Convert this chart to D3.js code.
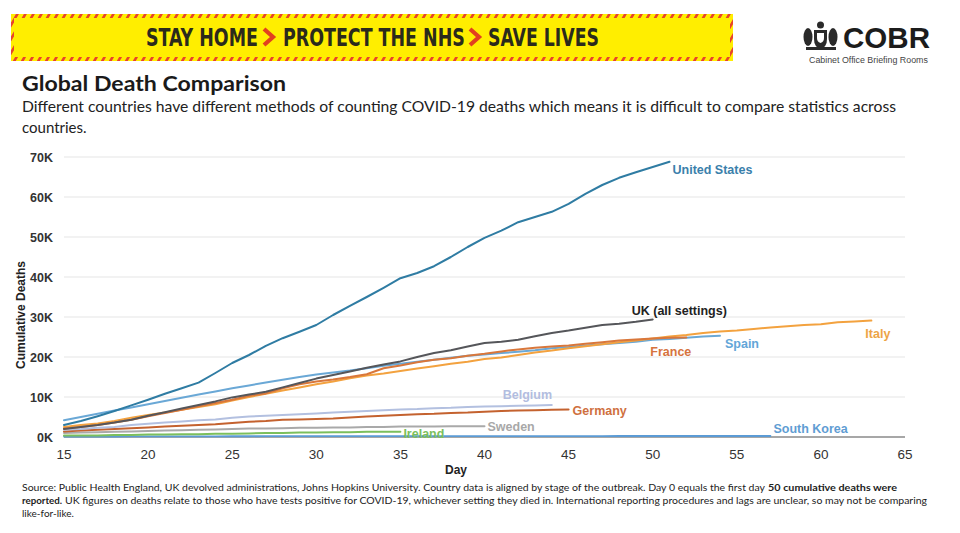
<!DOCTYPE html>
<html><head><meta charset="utf-8">
<script src="https://cdn.jsdelivr.net/npm/d3@7"></script>
<style>body{margin:0;background:#fff}svg{display:block}</style>
</head><body><svg id="c" width="960" height="533"></svg>
<script>
// ---------- DATA (cumulative deaths, thousands; first value = day 15) ----------
const firstDay = 15;
const xTicks = [15, 20, 25, 30, 35, 40, 45, 50, 55, 60, 65];
const yTicks = [0, 10, 20, 30, 40, 50, 60, 70];
const yTickLabels = ["0K", "10K", "20K", "30K", "40K", "50K", "60K", "70K"];

const unitedStates = [3.0,4.0,5.2,6.5,7.9,9.3,10.8,12.2,13.6,16.0,18.5,20.5,22.8,24.7,26.3,28.0,30.5,32.8,35.0,37.3,39.7,41.0,42.7,45.0,47.5,49.8,51.6,53.7,55.0,56.3,58.3,60.8,63.0,64.8,66.2,67.5,68.8];
const ukAllSettings = [2.0,2.5,3.0,3.6,4.3,5.3,6.2,7.1,8.0,8.9,9.9,10.6,11.3,12.4,13.5,14.6,15.5,16.4,17.3,18.1,18.9,20.0,21.0,21.7,22.6,23.5,23.8,24.3,25.2,26.0,26.6,27.3,28.0,28.3,28.8,29.4];
const italy = [2.5,3.0,3.4,4.0,4.8,5.5,6.1,6.8,7.5,8.2,9.1,10.0,10.8,11.6,12.4,13.2,13.9,14.7,15.4,15.9,16.5,17.1,17.7,18.3,18.8,19.5,19.9,20.5,21.1,21.6,22.2,22.7,23.2,23.7,24.1,24.6,25.1,25.5,26.0,26.4,26.6,27.0,27.4,27.7,28.0,28.2,28.7,28.9,29.1];
const france = [2.1,2.5,3.0,3.6,4.3,5.2,6.0,6.8,7.7,8.5,9.3,10.3,10.9,12.2,13.2,13.9,14.4,15.0,15.7,17.2,17.9,18.7,19.3,19.7,20.3,20.8,21.4,21.9,22.3,22.6,22.9,23.3,23.7,24.1,24.4,24.6,24.8,24.9];
const spain = [4.2,5.0,5.8,6.6,7.4,8.2,9.0,9.8,10.6,11.4,12.2,12.9,13.6,14.3,15.0,15.6,16.1,16.6,17.2,17.8,18.3,18.8,19.3,19.8,20.3,20.6,21.0,21.3,21.7,22.2,22.5,22.9,23.2,23.5,23.8,24.3,24.5,24.8,25.1,25.3];
const belgium = [1.8,2.0,2.3,2.5,3.0,3.3,3.6,3.9,4.2,4.4,4.8,5.1,5.3,5.5,5.7,5.9,6.1,6.3,6.5,6.7,6.9,7.0,7.2,7.3,7.5,7.6,7.7,7.8,7.9,8.0];
const germany = [1.4,1.6,1.8,2.0,2.2,2.4,2.6,2.8,3.0,3.2,3.5,3.8,4.0,4.3,4.4,4.5,4.6,4.9,5.1,5.3,5.5,5.7,5.8,6.0,6.1,6.3,6.5,6.6,6.7,6.8,6.9];
const sweden = [1.0,1.1,1.2,1.3,1.4,1.5,1.6,1.7,1.8,1.9,2.0,2.1,2.1,2.2,2.3,2.3,2.4,2.4,2.5,2.5,2.6,2.6,2.6,2.7,2.7,2.7];
const ireland = [0.4,0.4,0.4,0.5,0.5,0.6,0.6,0.7,0.7,0.8,0.8,0.9,1.0,1.0,1.1,1.1,1.2,1.2,1.3,1.3,1.3];
const southKorea = [0.10,0.11,0.12,0.13,0.14,0.15,0.16,0.17,0.18,0.18,0.19,0.19,0.20,0.20,0.21,0.21,0.21,0.22,0.22,0.22,0.23,0.23,0.23,0.23,0.24,0.24,0.24,0.24,0.24,0.24,0.24,0.24,0.24,0.25,0.25,0.25,0.25,0.25,0.25,0.25,0.25,0.25,0.25];

const seriesNames = ["South Korea","Ireland","Sweden","Germany","Belgium","Spain","Italy","France","UK (all settings)","United States"];
const seriesValues = [southKorea, ireland, sweden, germany, belgium, spain, italy, france, ukAllSettings, unitedStates];

const bannerWords = ["STAY HOME", "PROTECT THE NHS", "SAVE LIVES"];
const footerLine1 = ["Source: Public Health England, UK devolved administrations, Johns Hopkins University. Country data is aligned by stage of the outbreak. Day 0 equals the first day", "50 cumulative deaths were"];
const footerLine2 = ["reported.", "UK figures on deaths relate to those who have tests positive for COVID-19, whichever setting they died in. International reporting procedures and lags are unclear, so may not be comparing"];
const footerLine3 = "like-for-like.";

// ---------- STYLE ----------
const lineColor = {"United States":"#2f7ca3","UK (all settings)":"#55565a","Italy":"#f3a23f","France":"#d9773b","Spain":"#6aa8d6","Belgium":"#b3c0e0","Germany":"#c4622f","Sweden":"#a9a9a9","Ireland":"#7cbf5c","South Korea":"#5b9bd5"};
const labelColor = {"United States":"#3a80ab","UK (all settings)":"#222","Italy":"#eda446","France":"#d6733d","Spain":"#63a6d8","Belgium":"#b2bde0","Germany":"#cf7040","Sweden":"#a8a8a8","Ireland":"#7cbf5c","South Korea":"#5f9dd3"};
const labelOffset = {"United States":[3,12],"UK (all settings)":[-21,-4],"Italy":[-6,17],"France":[-36,19],"Spain":[5,12],"Belgium":[-49,-6],"Germany":[4,6],"Sweden":[3,5],"Ireland":[3,6],"South Korea":[3,-3]};

const svg = d3.select("#c");
const x = d3.scaleLinear().domain([15, 65]).range([64, 905]);
const y = d3.scaleLinear().domain([0, 70]).range([437, 157]);

// fit a text horizontally to a target width by scaling (keeps box honest)
function fitText(sel, x0, y0, target){
  const len = sel.node().getComputedTextLength();
  sel.attr("x",0).attr("y",0).attr("transform",`translate(${x0},${y0}) scale(${target/len},1)`);
}

// ---------- BANNER ----------
const defs = svg.append("defs");
const pat = defs.append("pattern").attr("id","hatch").attr("patternUnits","userSpaceOnUse")
  .attr("width",8).attr("height",8).attr("patternTransform","skewX(-30)");
pat.append("rect").attr("width",8).attr("height",8).attr("fill","#ffee00");
pat.append("rect").attr("width",3).attr("height",8).attr("fill","#e8452b");
svg.append("rect").attr("x",11).attr("y",14).attr("width",722).attr("height",47).attr("fill","url(#hatch)");
svg.append("rect").attr("x",14).attr("y",18).attr("width",716).attr("height",39).attr("fill","#ffee00");
const bannerFont = "'Liberation Sans Narrow','DejaVu Sans Condensed',sans-serif";
const wordPos = [[146,112],[283,182],[488,111]];
bannerWords.forEach((w,i)=>{
  const t = svg.append("text").attr("font-family",bannerFont)
    .attr("font-weight","bold").attr("font-size",25).attr("fill","#2b2a1c").text(w);
  fitText(t, wordPos[i][0], 46, wordPos[i][1]);
});
[264, 470].forEach(cx=>{
  svg.append("path").attr("d",`M${cx},29 L${cx+9},37 L${cx},45`).attr("fill","none")
    .attr("stroke","#e2401f").attr("stroke-width",4.2).attr("stroke-linejoin","miter");
});

// ---------- COBR LOGO ----------
const crest = svg.append("g").attr("fill","#2a2a2a");
crest.append("path").attr("d","M814,30 h13 v9 q0,8 -6.5,10 q-6.5,-2 -6.5,-10 z");
crest.append("circle").attr("cx",820.5).attr("cy",25).attr("r",3.5);
crest.append("ellipse").attr("cx",808).attr("cy",37).attr("rx",4.5).attr("ry",9);
crest.append("ellipse").attr("cx",833).attr("cy",37).attr("rx",4.5).attr("ry",9);
crest.append("rect").attr("x",806).attr("y",47).attr("width",30).attr("height",3);
crest.append("path").attr("d","M817,33 h7 v5 q0,4 -3.5,5 q-3.5,-1 -3.5,-5 z").attr("fill","#fff");
const cobr = svg.append("text").attr("font-family","'Liberation Sans',Arial,sans-serif")
  .attr("font-weight","bold").attr("font-size",30).attr("fill","#1c1c1c").text("COBR");
fitText(cobr, 843, 48, 87);
const cab = svg.append("text").attr("font-family","'Liberation Sans',Arial,sans-serif")
  .attr("font-size",8.5).attr("fill","#444").text("Cabinet Office Briefing Rooms");
fitText(cab, 809, 63, 119);

// ---------- TITLES ----------
svg.append("text").attr("x",22).attr("y",91).attr("font-family","Lato,'Open Sans',sans-serif")
  .attr("font-weight","bold").attr("font-size",21).attr("fill","#1a1a1a")
  .attr("textLength",264).attr("lengthAdjust","spacingAndGlyphs").text("Global Death Comparison");
svg.append("text").attr("x",22).attr("y",112).attr("font-family","Lato,'Open Sans',sans-serif")
  .attr("font-size",15).attr("fill","#222").attr("textLength",874).attr("lengthAdjust","spacingAndGlyphs")
  .text("Different countries have different methods of counting COVID-19 deaths which means it is difficult to compare statistics across");
svg.append("text").attr("x",22).attr("y",133).attr("font-family","Lato,'Open Sans',sans-serif")
  .attr("font-size",15).attr("fill","#222").text("countries.");

// ---------- GRID & AXES ----------
svg.append("g").selectAll("line").data(yTicks.filter(d=>d>0)).join("line")
  .attr("x1",x(15)).attr("x2",x(65)).attr("y1",d=>y(d)).attr("y2",d=>y(d))
  .attr("stroke","#e6e6e6").attr("stroke-width",1.2);
svg.append("line").attr("x1",x(15)).attr("x2",x(65)).attr("y1",y(0)).attr("y2",y(0))
  .attr("stroke","#8a8a8a").attr("stroke-width",1.5);

svg.append("g").selectAll("text").data(yTicks).join("text")
  .attr("x",53).attr("y",d=>y(d)+4.5).attr("text-anchor","end")
  .attr("font-family","'Liberation Sans',Arial,sans-serif").attr("font-weight","bold")
  .attr("font-size",12.5).attr("fill","#333").text((d,i)=>yTickLabels[i]);
svg.append("g").selectAll("text").data(xTicks).join("text")
  .attr("x",d=>x(d)).attr("y",459).attr("text-anchor","middle")
  .attr("font-family","'Liberation Sans',Arial,sans-serif")
  .attr("font-size",13.5).attr("fill","#333").text(d=>d);
svg.append("text").attr("x",456).attr("y",474).attr("text-anchor","middle")
  .attr("font-family","'Liberation Sans',Arial,sans-serif").attr("font-weight","bold")
  .attr("font-size",12).attr("fill","#222").text("Day");
svg.append("text").attr("transform","translate(25,315) rotate(-90)").attr("text-anchor","middle")
  .attr("font-family","'Liberation Sans',Arial,sans-serif").attr("font-weight","bold")
  .attr("font-size",12).attr("fill","#222").text("Cumulative Deaths");

// ---------- LINES ----------
const line = d3.line().x((d,i)=>x(firstDay+i)).y(d=>y(d)).curve(d3.curveLinear);
seriesNames.forEach((name, k) => {
  const vals = seriesValues[k];
  svg.append("path").attr("d", line(vals)).attr("fill","none")
    .attr("stroke", lineColor[name]).attr("stroke-width", name==="South Korea"?1.8:2)
    .attr("stroke-linejoin","round").attr("stroke-linecap","round");
  const lastDay = firstDay + vals.length - 1, lastVal = vals[vals.length-1];
  const [dx, dy] = labelOffset[name];
  svg.append("text").attr("x", x(lastDay)+dx).attr("y", y(lastVal)+dy)
    .attr("font-family","'Liberation Sans',Arial,sans-serif").attr("font-weight","bold")
    .attr("font-size",12.5).attr("fill",labelColor[name]).text(name);
});

// ---------- FOOTER ----------
const fnt = "Lato,'Liberation Sans Narrow',sans-serif";
function ftext(xp, yp, w, str, bold){
  const t = svg.append("text").attr("x",xp).attr("y",yp).attr("font-family",fnt).attr("font-size",10)
    .attr("fill","#222").attr("font-weight", bold?"bold":"normal").text(str);
  if (w) t.attr("textLength",w).attr("lengthAdjust","spacingAndGlyphs");
}
ftext(22, 491, 743, footerLine1[0], false);
ftext(768, 491, 129, footerLine1[1], true);
ftext(22, 504, 40, footerLine2[0], true);
ftext(65, 504, 862, footerLine2[1], false);
ftext(22, 517, null, footerLine3, false);
</script></body></html>
